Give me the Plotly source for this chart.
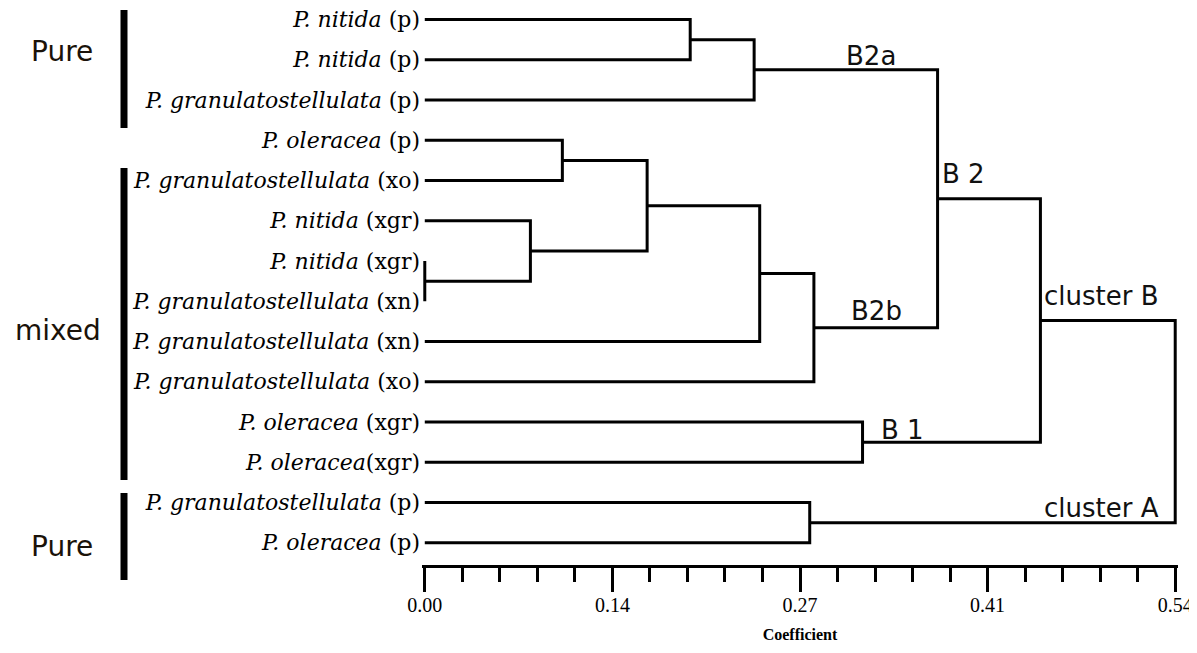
import plotly.graph_objects as go

# ---------------- data ----------------
species = ["P. nitida", "P. nitida", "P. granulatostellulata", "P. oleracea",
           "P. granulatostellulata", "P. nitida", "P. nitida", "P. granulatostellulata",
           "P. granulatostellulata", "P. granulatostellulata", "P. oleracea", "P. oleracea",
           "P. granulatostellulata", "P. oleracea"]
origins = ["(p)", "(p)", "(p)", "(p)", "(xo)", "(xgr)", "(xgr)", "(xn)",
           "(xn)", "(xo)", "(xgr)", "(xgr)", "(p)", "(p)"]
separators = [" ", " ", " ", " ", " ", " ", " ", " ", " ", " ", " ", "", " ", " "]

# linkage: node ids 0..13 are leaves, merges create ids 14..26 in order
merge_left = [6, 0, 3, 5, 16, 15, 18, 20, 10, 12, 19, 24, 25]
merge_right = [7, 1, 4, 14, 17, 2, 8, 9, 11, 13, 21, 22, 23]
merge_height = [0.000, 0.191, 0.099, 0.076, 0.160, 0.237, 0.241, 0.280,
                0.315, 0.277, 0.369, 0.443, 0.540]

tick_values = [0.0, 0.135, 0.27, 0.405, 0.54]
tick_labels = ["0.00", "0.14", "0.27", "0.41", "0.54"]

cluster_names = ["B2a", "B 2", "B2b", "cluster B", "B 1", "cluster A"]
cluster_x = [0.321, 0.388, 0.3254, 0.4873, 0.3434, 0.4866]
cluster_y = [0.907, 3.84, 7.24, 6.87, 10.2, 12.14]

group_names = ["Pure", "mixed", "Pure"]

# ---------------- dendrogram geometry from linkage ----------------
n = len(species)
pos = {i: float(i) for i in range(n)}
hgt = {i: 0.0 for i in range(n)}
xs, ys = [], []
for k, (a, b, h) in enumerate(zip(merge_left, merge_right, merge_height)):
    node = n + k
    xs += [hgt[a], h, h, hgt[b], None]
    ys += [pos[a], pos[a], pos[b], pos[b], None]
    pos[node] = (pos[a] + pos[b]) / 2
    hgt[node] = h

fig = go.Figure()
fig.add_trace(go.Scatter(x=xs, y=ys, mode="lines",
                         line=dict(color="black", width=3),
                         hoverinfo="skip", showlegend=False))

leaf_text = [f"<i>{s}</i>{sep}{o}" for s, sep, o in zip(species, separators, origins)]

# page has an 8px body margin; size the figure so the window never scrolls
BODY = 8
W, H = 1197 - BODY, 653 - 2 * BODY
ml, mt = 414, 0
plot_w = 756
plot_h = 557
mr = W - ml - plot_w
mb = H - mt - plot_h
leaf0_px, leaf_step = 11.5, 40.25
y_top = (0 - leaf0_px) / leaf_step
y_bot = (plot_h - leaf0_px) / leaf_step

fig.update_layout(
    width=W, height=H,
    margin=dict(l=ml, r=mr, t=mt, b=mb),
    paper_bgcolor="white", plot_bgcolor="white",
    xaxis=dict(
        range=[-0.002, 0.542], showgrid=False, zeroline=False,
        showline=True, linewidth=3, linecolor="black",
        ticks="outside", ticklen=24, tickwidth=3, tickcolor="black",
        tickvals=tick_values, ticktext=tick_labels, ticklabeloverflow="allow",
        ticklabelstandoff=-4,
        tickfont=dict(family="Liberation Serif", size=20, color="black"),
        minor=dict(ticks="outside", ticklen=14, tickwidth=2.5, tickcolor="black",
                   tick0=0, dtick=0.027),
        title=dict(text="<b>Coefficient</b>", standoff=14,
                   font=dict(family="Liberation Serif", size=16, color="black")),
    ),
    yaxis=dict(
        range=[y_bot, y_top], showgrid=False, zeroline=False, showline=False,
        ticks="", tickvals=list(range(n)), ticktext=leaf_text,
        ticklabeloverflow="allow",
        tickfont=dict(family="DejaVu Serif", size=22, color="black"),
        ticklabelstandoff=1,
    ),
)

# cluster labels
for name, cx, cy in zip(cluster_names, cluster_x, cluster_y):
    fig.add_annotation(x=cx, y=cy, xref="x", yref="y", text=name, showarrow=False,
                       xanchor="center", yanchor="middle",
                       font=dict(family="DejaVu Sans", size=26, color="#111111"))

# group labels and bars (paper coordinates, from window pixels)
def px_to_paper_x(px):
    return (px - BODY - ml) / plot_w

def py_to_paper_y(py):
    return (BODY + mt + plot_h - py) / plot_h

group_centers_px = [(62, 52), (58, 330), (62, 546)]
bar_spans_px = [(10, 128), (168, 480), (493, 580)]
for name, (gx, gy), (b0, b1) in zip(group_names, group_centers_px, bar_spans_px):
    fig.add_annotation(x=px_to_paper_x(gx), y=py_to_paper_y(gy), xref="paper", yref="paper",
                       text=name, showarrow=False, xanchor="center", yanchor="middle",
                       font=dict(family="DejaVu Sans", size=28, color="#1a1209"))
    fig.add_shape(type="line", xref="paper", yref="paper",
                  x0=px_to_paper_x(124), x1=px_to_paper_x(124),
                  y0=py_to_paper_y(b0), y1=py_to_paper_y(b1),
                  line=dict(color="black", width=7))

fig.write_html("out.html")
